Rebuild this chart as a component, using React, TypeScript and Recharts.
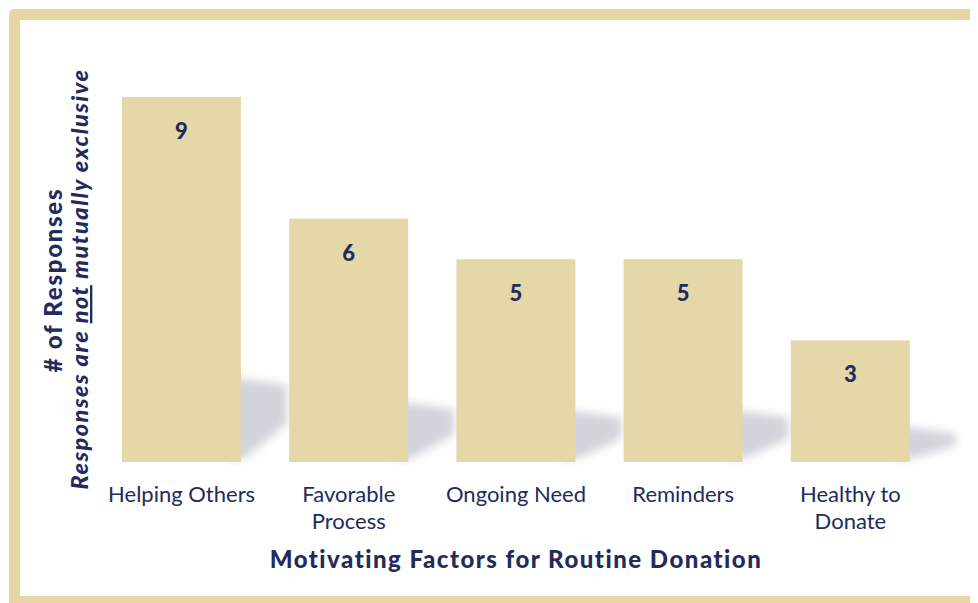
import React from "react";
import { BarChart, Bar, XAxis, YAxis, LabelList } from "recharts";

const categories = ["Helping Others", "Favorable Process", "Ongoing Need", "Reminders", "Healthy to Donate"];
const tickLines = [["Helping Others"], ["Favorable", "Process"], ["Ongoing Need"], ["Reminders"], ["Healthy to", "Donate"]];
const responses = [9, 6, 5, 5, 3];

const data = categories.map((c, i) => ({ name: c, value: responses[i] }));

const NAVY = "#232b5c";
const BAR = "#e4d7a8";
const FONT = "Lato, 'Open Sans', sans-serif";

const ShadowBar = (props: any) => {
  const { x, y, width, height } = props;
  const bottom = y + height;
  const right = x + width;
  const sh = 0.2 * height + 12;
  const pts = [
    [right - 12, bottom - 2],
    [right - 12, bottom - sh],
    [right + 46, bottom - sh + 8],
    [right + 46, bottom - sh * 0.45],
    [right + 4, bottom - 4],
  ]
    .map((p) => p.join(","))
    .join(" ");
  return (
    <g>
      <polygon points={pts} fill="#bfc1cc" opacity={0.7} style={{ filter: "blur(5px)" }} />
      <rect x={x} y={y} width={width} height={height} fill={BAR} />
    </g>
  );
};

const ValueLabel = (props: any) => {
  const { x, y, width, value } = props;
  return (
    <text x={x + width / 2} y={y + 42} textAnchor="middle" fill={NAVY} fontFamily={FONT} fontWeight={900} fontSize={22}>
      {value}
    </text>
  );
};

const Tick = (props: any) => {
  const { x, y, index } = props;
  const lines = tickLines[index] || [];
  return (
    <g>
      {lines.map((l: string, i: number) => (
        <text key={i} x={x} y={y + 32 + i * 27} textAnchor="middle" fill={NAVY} fontFamily={FONT} fontSize={22}>
          {l}
        </text>
      ))}
    </g>
  );
};

const Titles = (props: any) => {
  const { viewBox } = props;
  const cx = viewBox.x + viewBox.width / 2;
  const cy = 272;
  return (
    <g>
      <text x={cx} y={560} textAnchor="middle" fill={NAVY} fontFamily={FONT} fontWeight={900} fontSize={24} letterSpacing={1.5}>
        Motivating Factors for Routine Donation
      </text>
      <text transform={`translate(54, ${cy}) rotate(-90)`} textAnchor="middle" fill={NAVY} fontFamily={FONT} fontWeight={900} fontSize={24} letterSpacing={1.7}>
        # of Responses
      </text>
      <text transform={`translate(80, ${cy - 1}) rotate(-90)`} textAnchor="middle" fill={NAVY} fontFamily={FONT} fontWeight={900} fontStyle="italic" fontSize={23.5} letterSpacing={1.5}>
        Responses are <tspan textDecoration="underline">not</tspan> mutually exclusive
      </text>
    </g>
  );
};

export default function App() {
  return (
    <div style={{ position: "relative", width: 970, height: 595, overflow: "hidden", background: "#fff" }}>
      <div
        style={{
          position: "absolute",
          left: 1,
          top: 1,
          width: 1100,
          height: 598,
          boxSizing: "border-box",
          border: "11px solid #e5d6a4",
          borderRadius: 5,
        }}
      />
      <div style={{ position: "absolute", left: 0, top: 0 }}>
        <BarChart width={970} height={595} data={data} margin={{ top: 89, right: 44, bottom: 61, left: 90 }} barCategoryGap={24}>
          <XAxis dataKey="name" axisLine={false} tickLine={false} interval={0} height={80} tick={<Tick />} label={<Titles />} />
          <YAxis domain={[0, 9]} width={0} tick={false} axisLine={false} tickLine={false} />
          <Bar dataKey="value" shape={<ShadowBar />} isAnimationActive={false}>
            <LabelList dataKey="value" content={<ValueLabel />} />
          </Bar>
        </BarChart>
      </div>
    </div>
  );
}
